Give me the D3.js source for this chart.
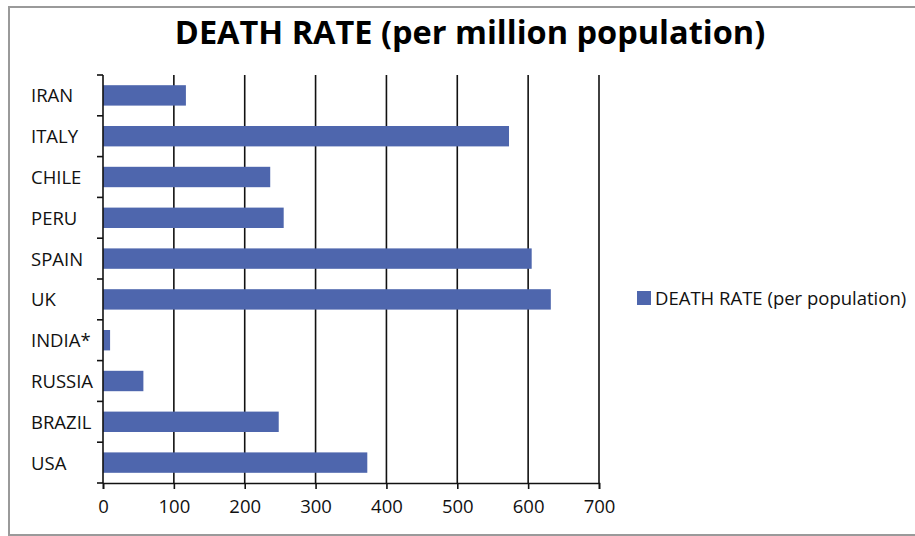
<!DOCTYPE html>
<html><head><meta charset="utf-8">
<script src="https://cdn.jsdelivr.net/npm/d3@7"></script>
<style>body{margin:0;background:#fff;}svg{display:block;}</style>
</head><body>
<svg id="chart" width="915" height="536"></svg>
<script>
const countries = ["IRAN","ITALY","CHILE","PERU","SPAIN","UK","INDIA*","RUSSIA","BRAZIL","USA"];
const deathRates = [117, 573, 236, 255, 605, 632, 10, 57, 248, 373];
const xTicks = [0,100,200,300,400,500,600,700];
const titleText = "DEATH RATE (per million population)";
const legendText = "DEATH RATE (per population)";

const svg = d3.select("#chart");
const font = "'Open Sans', sans-serif";
const barColor = "#4e66ad";

// frame
svg.append("rect").attr("x",9).attr("y",7).attr("width",920).attr("height",528)
  .attr("fill","#fff").attr("stroke","#9a9a9a").attr("stroke-width",2);

const x = d3.scaleLinear().domain([0,700]).range([103,599]);
const y = d3.scaleBand().domain(countries).range([75,483]).paddingInner(0.5).paddingOuter(0.25);
const yb = d3.scaleBand().domain(countries).range([75,483]);

// gridlines
svg.append("g").selectAll("line").data(xTicks.slice(1)).join("line")
  .attr("x1",d=>x(d)).attr("x2",d=>x(d)).attr("y1",75).attr("y2",483)
  .attr("stroke","#111").attr("stroke-width",1.6);

// bars
svg.append("g").selectAll("rect").data(countries).join("rect")
  .attr("x",x(0)).attr("y",d=>y(d)).attr("height",y.bandwidth())
  .attr("width",(d,i)=>x(deathRates[i])-x(0)).attr("fill",barColor);

// x axis
const xAxis = svg.append("g").attr("transform","translate(0,483)")
  .call(d3.axisBottom(x).tickValues(xTicks).tickSize(6).tickPadding(11));
xAxis.select(".domain").attr("stroke","#111").attr("stroke-width",1.6);
xAxis.selectAll(".tick line").attr("stroke","#111").attr("stroke-width",1.6);
xAxis.selectAll("text").attr("font-family",font).attr("font-size",18.5).attr("fill","#111");

// y axis
const bounds = countries.map(c=>yb(c)).concat([483]);
const yAxisG = svg.append("g");
yAxisG.append("line").attr("x1",x(0)).attr("x2",x(0)).attr("y1",75).attr("y2",483)
  .attr("stroke","#111").attr("stroke-width",1.6);
yAxisG.selectAll("line.tk").data(bounds).join("line").attr("class","tk")
  .attr("x1",x(0)-6).attr("x2",x(0)).attr("y1",d=>d).attr("y2",d=>d)
  .attr("stroke","#111").attr("stroke-width",1.6);
yAxisG.selectAll("text").data(countries).join("text")
  .attr("x",31).attr("y",d=>yb(d)+yb.bandwidth()/2).attr("dy","0.38em")
  .attr("font-family",font).attr("font-size",18.5).attr("fill","#111").text(d=>d);

// title
svg.append("text").attr("x",470).attr("y",44).attr("text-anchor","middle")
  .attr("font-family",font).attr("font-weight","bold").attr("font-size",32.5).attr("fill","#000")
  .text(titleText);

// legend
svg.append("rect").attr("x",637).attr("y",291).attr("width",14).attr("height",14).attr("fill",barColor);
svg.append("text").attr("x",655).attr("y",298).attr("dy","0.38em")
  .attr("font-family",font).attr("font-size",18.5).attr("fill","#111").text(legendText);
</script>
</body></html>
